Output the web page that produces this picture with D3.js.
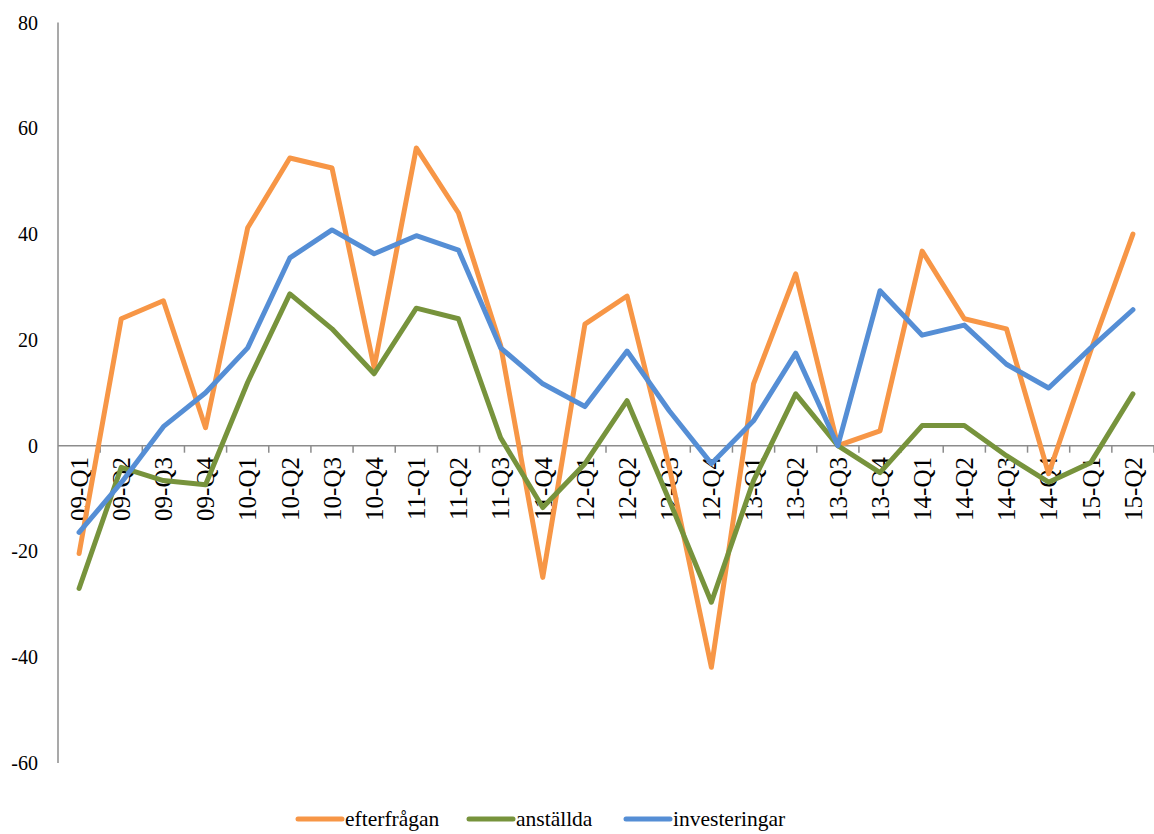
<!DOCTYPE html>
<html>
<head>
<meta charset="utf-8">
<script src="https://cdn.jsdelivr.net/npm/d3@7"></script>
<style>
  body { margin: 0; background: #fff; }
</style>
</head>
<body>
<script>
// quarters 2009 Q1 .. 2015 Q2
var quarters = ["09-Q1","09-Q2","09-Q3","09-Q4","10-Q1","10-Q2","10-Q3","10-Q4",
                "11-Q1","11-Q2","11-Q3","11-Q4","12-Q1","12-Q2","12-Q3","12-Q4",
                "13-Q1","13-Q2","13-Q3","13-Q4","14-Q1","14-Q2","14-Q3","14-Q4",
                "15-Q1","15-Q2"];

var efterfragan   = [-20.4, 24.0, 27.4, 3.4, 41.2, 54.4, 52.5, 14.8, 56.3, 44.0, 19.0, -24.9, 23.0,
                     28.3, -4.0, -41.9, 11.7, 32.5, 0, 2.8, 36.8, 24.0, 22.1, -5.3, 18.0, 40.0];
var anstallda     = [-27.0, -4.1, -6.6, -7.4, 12.0, 28.7, 22.1, 13.6, 26.0, 24.0, 1.5, -11.7, -3.4,
                     8.5, -10.3, -29.6, -6.6, 9.8, 0, -5.1, 3.8, 3.8, -1.9, -6.9, -3.2, 9.8];
var investeringar = [-16.4, -7.0, 3.6, 10.0, 18.5, 35.5, 40.8, 36.3, 39.7, 37.0, 18.5, 11.7, 7.4,
                     17.9, 6.6, -3.4, 4.7, 17.5, 0, 29.3, 20.9, 22.8, 15.4, 10.9, 18.5, 25.7];

var seriesNames = ["efterfrågan", "anställda", "investeringar"];
var seriesColors = ["#f79646", "#77933c", "#558ed5"];
var yTicks = [80, 60, 40, 20, 0, -20, -40, -60];

var svg = d3.select("body").append("svg")
        .attr("width", 1154)
        .attr("height", 834)
        .style("font-family", "'Liberation Serif', 'DejaVu Serif', serif");

var x = d3.scaleBand()
        .domain(quarters)
        .range([58, 1154]);

var y = d3.scaleLinear()
        .domain([-60, 80])
        .range([763, 22.6]);

var axisColor = "#8c8c8c";

// y axis line
svg.append("line")
        .attr("x1", 58).attr("x2", 58)
        .attr("y1", y(80)).attr("y2", y(-60))
        .attr("stroke", axisColor)
        .attr("stroke-width", 1.5);

// y labels
svg.selectAll("text.ylab")
        .data(yTicks)
        .enter().append("text")
                .attr("class", "ylab")
                .attr("x", 38)
                .attr("y", function(d){ return y(d); })
                .attr("dy", "0.35em")
                .attr("text-anchor", "end")
                .attr("font-size", 20)
                .text(function(d){ return d; });

// zero line with ticks between categories
svg.append("line")
        .attr("x1", 58).attr("x2", 1154)
        .attr("y1", y(0)).attr("y2", y(0))
        .attr("stroke", axisColor)
        .attr("stroke-width", 1.5);

svg.selectAll("line.tick")
        .data(quarters)
        .enter().append("line")
                .attr("class", "tick")
                .attr("x1", function(d){ return x(d) + x.step(); })
                .attr("x2", function(d){ return x(d) + x.step(); })
                .attr("y1", y(0))
                .attr("y2", y(0) + 7)
                .attr("stroke", axisColor)
                .attr("stroke-width", 1.5);

// category labels, rotated
svg.selectAll("text.xlab")
        .data(quarters)
        .enter().append("text")
                .attr("class", "xlab")
                .attr("transform", function(d){
                    return "translate(" + (x(d) + x.bandwidth()/2) + "," + 457 + ") rotate(-90)";
                })
                .attr("dy", "0.35em")
                .attr("text-anchor", "end")
                .attr("font-size", 25)
                .text(function(d){ return d; });

// lines
var line = d3.line()
        .x(function(d,i){ return x(quarters[i]) + x.bandwidth()/2; })
        .y(function(d){ return y(d); });

var allSeries = [efterfragan, anstallda, investeringar];

svg.selectAll("path.series")
        .data(allSeries)
        .enter().append("path")
                .attr("class", "series")
                .attr("d", line)
                .attr("fill", "none")
                .attr("stroke", function(d,i){ return seriesColors[i]; })
                .attr("stroke-width", 5)
                .attr("stroke-linejoin", "round")
                .attr("stroke-linecap", "round");

// legend
var legendX = [298, 469, 626];
var legend = svg.selectAll("g.legend")
        .data(seriesNames)
        .enter().append("g")
                .attr("class", "legend")
                .attr("transform", function(d,i){ return "translate(" + legendX[i] + ",819)"; });

legend.append("line")
        .attr("x1", 0).attr("x2", 44)
        .attr("y1", 0).attr("y2", 0)
        .attr("stroke", function(d,i){ return seriesColors[i]; })
        .attr("stroke-width", 5)
        .attr("stroke-linecap", "round");

legend.append("text")
        .attr("x", 47)
        .attr("y", 0)
        .attr("dy", "0.32em")
        .attr("font-size", 21.5)
        .text(function(d){ return d; });
</script>
</body>
</html>
